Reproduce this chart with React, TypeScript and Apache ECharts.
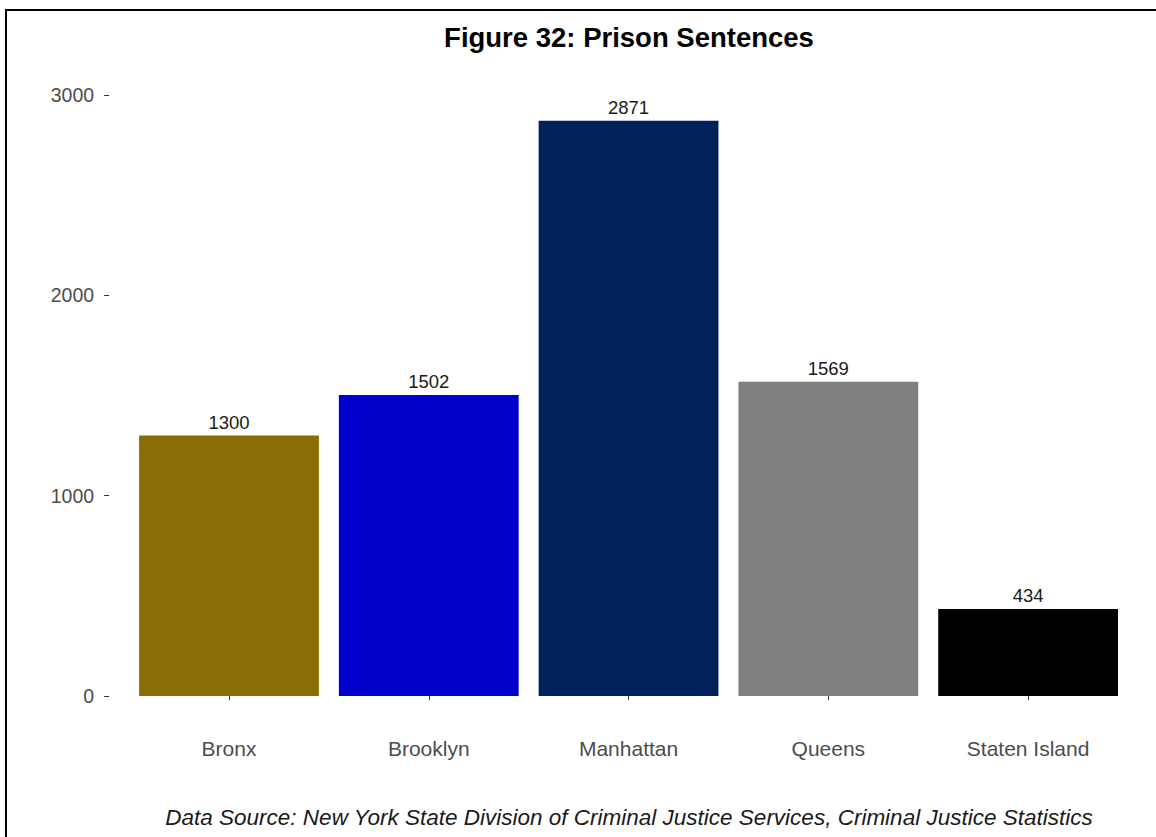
import React, { useEffect, useRef } from "react";
import * as echarts from "echarts";

const categories = ["Bronx", "Brooklyn", "Manhattan", "Queens", "Staten Island"];
const values = [1300, 1502, 2871, 1569, 434];
const barColors = ["#8B6D05", "#0000CD", "#00215A", "#808080", "#000000"];
const titleText = "Figure 32: Prison Sentences";
const captionText =
  "Data Source: New York State Division of Criminal Justice Services, Criminal Justice Statistics";

const FONT = "'Liberation Sans', Arial, Helvetica, sans-serif";

export default function App() {
  const ref = useRef<HTMLDivElement>(null);

  useEffect(() => {
    if (!ref.current) return;
    const chart = echarts.init(ref.current, undefined, { renderer: "svg" });
    chart.setOption({
      animation: false,
      backgroundColor: "#ffffff",
      grid: { left: 129.1, right: 28, top: 95, bottom: 141, containLabel: false },
      xAxis: {
        type: "category",
        data: categories,
        offset: 30,
        axisLine: { show: false },
        axisTick: { show: true, length: 4, alignWithLabel: true, lineStyle: { color: "#333333", width: 1 } },
        axisLabel: { color: "#4D4D4D", fontSize: 21, fontFamily: FONT, margin: 12 },
      },
      yAxis: {
        type: "value",
        min: 0,
        max: 3000,
        interval: 1000,
        offset: 20,
        splitLine: { show: false },
        axisLine: { show: false },
        axisTick: { show: true, length: 5, lineStyle: { color: "#333333", width: 1 } },
        axisLabel: {
          color: "#4D4D4D",
          fontSize: 19.5,
          fontFamily: FONT,
          margin: 15,
          formatter: (v: number) => String(v),
        },
      },
      series: [
        {
          type: "bar",
          data: values.map((v, i) => ({ value: v, itemStyle: { color: barColors[i] } })),
          barCategoryGap: "10%",
          label: {
            show: true,
            position: "top",
            distance: 4,
            color: "#1A1A1A",
            fontSize: 18.5,
            fontFamily: FONT,
          },
        },
      ],
      graphic: [
        {
          type: "rect",
          shape: { x: 6, y: 10, width: 1300, height: 1000 },
          style: { fill: "none", stroke: "#000000", lineWidth: 2 },
          silent: true,
        },
        {
          type: "text",
          x: 629,
          y: 37,
          style: {
            text: titleText,
            fill: "#000000",
            font: `bold 27.5px ${FONT}`,
            textAlign: "center",
            textVerticalAlign: "middle",
          },
        },
        {
          type: "text",
          x: 629,
          y: 817,
          style: {
            text: captionText,
            fill: "#1A1A1A",
            font: `italic 22.5px ${FONT}`,
            textAlign: "center",
            textVerticalAlign: "middle",
          },
        },
      ],
    });
    return () => chart.dispose();
  }, []);

  return (
    <div
      ref={ref}
      style={{ position: "fixed", left: 0, top: 0, width: 1156, height: 837, background: "#fff" }}
    />
  );
}
